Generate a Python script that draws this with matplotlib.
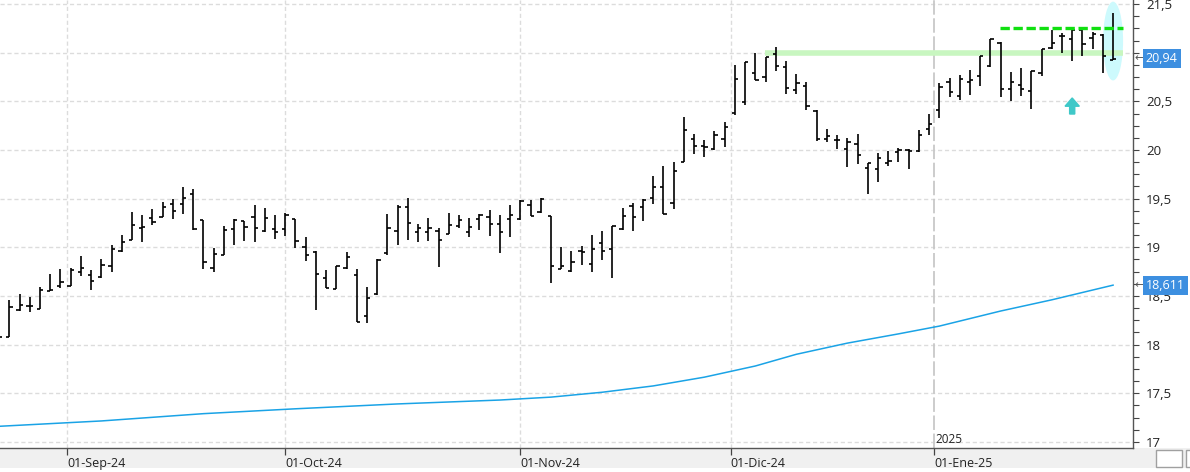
import matplotlib.pyplot as plt
import matplotlib.ticker as mticker
import matplotlib.transforms as mtrans
import numpy as np
from matplotlib.patches import Ellipse, Rectangle, FancyArrow

plt.rcParams['font.family'] = ['Open Sans', 'DejaVu Sans']

# Sesiones diarias (22-ago-24 a 27-ene-25)
opens = [18.15, 18.08, 18.36, 18.40, 18.37, 18.55, 18.60, 18.60, 18.75, 18.72,
         18.69, 18.81, 18.96, 19.08, 19.20, 19.30, 19.31, 19.44, 19.45, 19.55,
         19.28, 18.79, 18.92, 19.19, 19.27, 19.31, 19.17, 19.19, 19.19, 19.29,
         19.00, 18.95, 18.68, 18.57, 18.79, 18.72, 18.29, 18.52, 18.94, 19.17,
         19.41, 19.16, 19.16, 19.17, 19.14, 19.22, 19.16, 19.29, 19.31, 19.24,
         19.29, 19.29, 19.43, 19.36, 19.32, 18.78, 18.76, 18.96, 18.83, 19.04,
         18.98, 19.19, 19.42, 19.41, 19.51, 19.62, 19.46, 19.88, 20.11, 20.04,
         20.01, 20.11, 20.38, 20.49, 20.79, 20.75, 20.99, 20.85, 20.62, 20.66,
         20.40, 20.11, 20.10, 20.01, 20.06, 19.81, 19.80, 19.87, 19.98, 20.00,
         19.99, 20.22, 20.41, 20.70, 20.56, 20.70, 20.76, 20.86, 21.10, 20.63,
         20.67, 20.61, 20.79, 21.05, 21.17, 21.14, 21.23, 21.15, 21.18, 20.93]
highs = [18.20, 18.46, 18.52, 18.49, 18.59, 18.73, 18.78, 18.79, 18.91, 18.77,
         18.88, 19.02, 19.13, 19.36, 19.33, 19.39, 19.47, 19.50, 19.62, 19.60,
         19.28, 18.99, 19.22, 19.29, 19.27, 19.43, 19.40, 19.33, 19.35, 19.29,
         19.11, 18.96, 18.77, 18.81, 18.95, 18.78, 18.59, 18.88, 19.34, 19.43,
         19.51, 19.24, 19.30, 19.20, 19.35, 19.33, 19.30, 19.34, 19.38, 19.33,
         19.43, 19.49, 19.49, 19.51, 19.32, 19.00, 18.96, 19.01, 19.13, 19.17,
         19.22, 19.40, 19.46, 19.50, 19.73, 19.84, 19.88, 20.34, 20.16, 20.10,
         20.20, 20.29, 20.87, 20.90, 21.00, 20.96, 21.06, 20.91, 20.78, 20.70,
         20.41, 20.22, 20.15, 20.12, 20.16, 19.87, 19.97, 19.99, 20.02, 20.01,
         20.21, 20.37, 20.69, 20.74, 20.77, 20.82, 20.97, 21.14, 21.11, 20.80,
         20.84, 20.81, 21.04, 21.23, 21.20, 21.24, 21.24, 21.21, 21.19, 21.41]
lows = [18.05, 18.08, 18.35, 18.34, 18.37, 18.55, 18.58, 18.60, 18.71, 18.56,
        18.68, 18.75, 18.95, 19.07, 19.05, 19.23, 19.31, 19.29, 19.34, 19.18,
        18.78, 18.75, 18.92, 19.02, 19.06, 19.05, 19.16, 19.09, 19.12, 18.99,
        18.86, 18.36, 18.58, 18.57, 18.78, 18.23, 18.22, 18.51, 18.92, 19.02,
        19.08, 19.05, 19.06, 18.80, 19.14, 19.20, 19.11, 19.18, 19.12, 18.94,
        19.11, 19.28, 19.32, 19.35, 18.63, 18.78, 18.75, 18.82, 18.75, 18.87,
        18.68, 19.18, 19.17, 19.27, 19.45, 19.34, 19.39, 19.88, 19.96, 19.93,
        20.00, 20.03, 20.36, 20.46, 20.72, 20.70, 20.81, 20.58, 20.58, 20.41,
        20.09, 20.08, 20.01, 19.83, 19.86, 19.55, 19.67, 19.84, 19.88, 19.80,
        19.98, 20.15, 20.33, 20.54, 20.51, 20.57, 20.66, 20.85, 20.55, 20.50,
        20.56, 20.42, 20.76, 21.04, 21.00, 20.92, 20.97, 21.04, 20.79, 20.93]
closes = [18.08, 18.39, 18.41, 18.40, 18.56, 18.56, 18.64, 18.77, 18.79, 18.65,
          18.82, 18.98, 19.05, 19.23, 19.21, 19.26, 19.41, 19.37, 19.51, 19.19,
          18.85, 18.93, 19.18, 19.28, 19.21, 19.20, 19.30, 19.16, 19.33, 19.06,
          18.92, 18.73, 18.58, 18.81, 18.90, 18.23, 18.48, 18.87, 19.20, 19.41,
          19.25, 19.20, 19.20, 19.07, 19.23, 19.28, 19.21, 19.33, 19.24, 19.16,
          19.33, 19.48, 19.32, 19.50, 18.81, 18.81, 18.85, 18.95, 18.98, 18.96,
          19.22, 19.32, 19.31, 19.49, 19.62, 19.34, 19.78, 20.21, 20.04, 20.03,
          20.15, 20.24, 20.73, 20.90, 20.72, 20.96, 20.86, 20.64, 20.69, 20.45,
          20.11, 20.14, 20.10, 20.08, 19.95, 19.87, 19.92, 19.89, 20.00, 19.99,
          20.15, 20.27, 20.65, 20.60, 20.73, 20.72, 20.97, 21.14, 20.63, 20.70,
          20.63, 20.81, 21.04, 21.10, 21.17, 21.23, 21.09, 21.19, 20.97, 20.94]

# media movil (puntos leidos sobre la curva azul)
ma_idx = [0, 10, 20, 29, 39, 49, 54, 59, 64, 69, 74, 78, 83, 88, 92, 98, 103, 109]
ma_val = [17.16, 17.215, 17.29, 17.34, 17.39, 17.43, 17.46, 17.51, 17.575, 17.665,
          17.78, 17.90, 18.015, 18.11, 18.19, 18.345, 18.46, 18.611]

month_pos = [6.64, 28, 51, 71.6, 91.5]
month_labels = ['01-Sep-24', '01-Oct-24', '01-Nov-24', '01-Dic-24', '01-Ene-25']
year_label = '2025'

resistencia = 21.0
objetivo = 21.25
ultimo = 20.94
ultima_media = 18.611

fig = plt.figure(figsize=(11.9, 4.72), dpi=100)
fig.patch.set_facecolor('white')
# franja gris del eje de fechas
fig.patches.append(Rectangle((0, 4/472), 1, 20/472, transform=fig.transFigure,
                             fc='#f0f0f0', ec='none', zorder=-5))
ax = fig.add_axes([0, 24/472, 1133/1190, 448/472])
ax.set_facecolor('white')

x = np.arange(len(closes))

# barras OHLC
ax.vlines(x, lows, highs, color='black', lw=1.2, zorder=4)
ax.hlines(opens, x - 0.32, x, color='black', lw=1.2, zorder=4)
ax.hlines(closes, x, x + 0.32, color='black', lw=1.2, zorder=4)

# media movil
ax.plot(ma_idx, ma_val, color='#1aa3e6', lw=1.1, zorder=3)

# zona de resistencia y objetivo
ax.hlines(resistencia, 74.9, 110, color='#c8f6c0', lw=4, zorder=2)
ax.hlines(objetivo, 97.9, 110, color='#10e010', lw=2.4,
          linestyles=[(0, (2.8, 1.1))], zorder=5)
ax.add_patch(Ellipse((109, 21.12), 1.96, 0.81, fc='#cdfafd', ec='none', zorder=1))
ax.add_patch(FancyArrow(105, 20.37, 0, 0.165, width=0.5, head_width=1.4,
                        head_length=0.085, length_includes_head=True,
                        color='#3fc8c8', zorder=5))

# rejilla
for v in np.arange(17, 21.51, 0.5):
    ax.axhline(v, color='#dcdcdc', lw=1, ls=(0, (3, 2)), zorder=0)
for p in month_pos[:-1]:
    ax.axvline(p, color='#dcdcdc', lw=1, ls=(0, (3, 2)), zorder=0)
ax.axvline(month_pos[-1], color='#c8c8c8', lw=1.3, ls=(0, (8, 2)), zorder=0)
ax.text(month_pos[-1] + 0.15, 17.02, year_label, fontsize=8.5, color='#222',
        ha='left', va='center')

ax.set_xlim(0.088, 110.95)
ax.set_ylim(16.937, 21.542)

# ejes
ax.yaxis.tick_right()
ax.set_yticks(np.arange(17, 21.51, 0.5))
ax.yaxis.set_minor_locator(mticker.MultipleLocator(0.125))


def etiqueta(v, p):
    # la etiqueta "21" queda tapada por el recuadro del ultimo precio
    if abs(v - 21) < 1e-6:
        return ''
    return f'{v:g}'.replace('.', ',')


ax.yaxis.set_major_formatter(mticker.FuncFormatter(etiqueta))
ax.tick_params(axis='y', which='both', length=4.5, width=0.8, color='#444',
               pad=5, labelsize=9.5, labelcolor='#222')
ax.set_xticks(month_pos, month_labels)
ax.tick_params(axis='x', length=5, width=0.9, color='#444', pad=1.5,
               labelsize=9, labelcolor='#222')
for lab in ax.get_xticklabels():
    lab.set_ha('left')
for s in ['left', 'top']:
    ax.spines[s].set_visible(False)
for s in ['right', 'bottom']:
    ax.spines[s].set_color('#555')
    ax.spines[s].set_linewidth(1)

# etiquetas de precio en el eje
tr = mtrans.blended_transform_factory(ax.transAxes, ax.transData)
for val, txt in [(ultimo, f'{ultimo:.2f}'.replace('.', ',')),
                 (ultima_media, f'{ultima_media:.3f}'.replace('.', ','))]:
    ax.text(1.0015, val, '←', transform=tr, fontsize=8, color='#555',
            ha='left', va='center', clip_on=False, zorder=9, family='DejaVu Sans')
    ax.text(1.0112, val, txt, transform=tr, fontsize=9, color='white',
            ha='left', va='center', clip_on=False, zorder=10,
            bbox=dict(boxstyle='square,pad=0.25', fc='#3d8fe0', ec='none'))

# boton de la esquina
fig.patches.append(Rectangle((1156/1190, 5/472), 26/1190, 17/472, transform=fig.transFigure,
                             fc='white', ec='#a0a0a0', lw=1, zorder=2))
fig.patches.append(Rectangle((1186/1190, 5/472), 6/1190, 17/472, transform=fig.transFigure,
                             fc='white', ec='#a0a0a0', lw=1, zorder=2))
zx = np.array([1161, 1165, 1169, 1173, 1177]) / 1190
zy = np.array([11, 17, 11, 17, 11]) / 472
fig.lines.append(plt.Line2D(zx, zy, transform=fig.transFigure, color='#2a8ad8', lw=1.2))
fig.lines.append(plt.Line2D(zx, zy + 4/472, transform=fig.transFigure, color='#2a8ad8', lw=1.2))

fig.savefig('out.png', dpi=100)
